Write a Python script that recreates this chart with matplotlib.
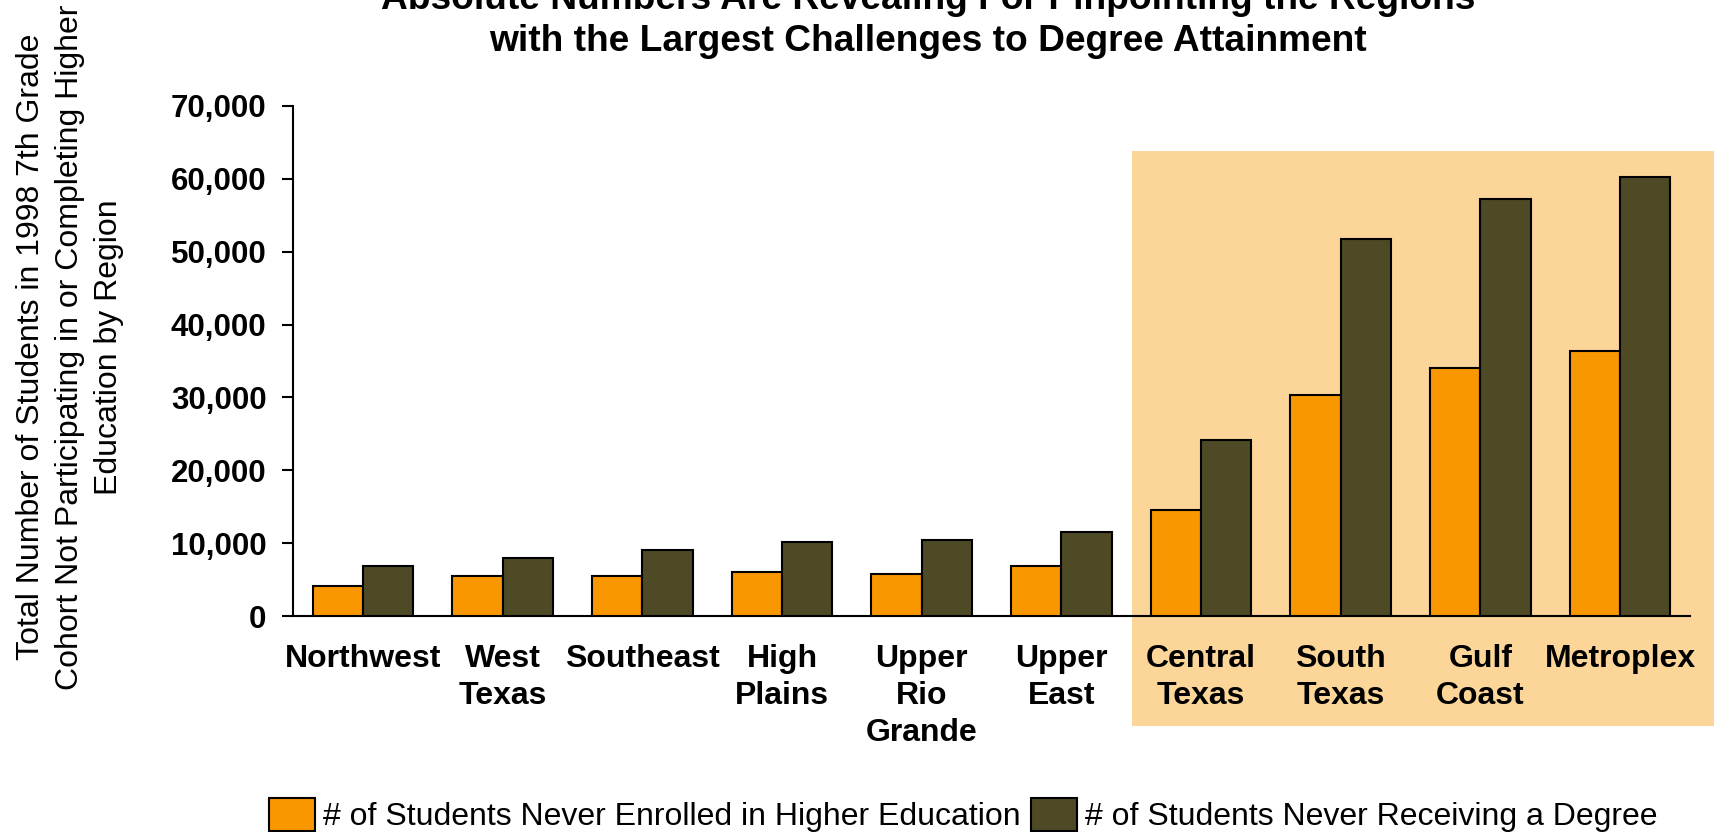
import matplotlib
matplotlib.use("Agg")
import matplotlib.pyplot as plt
from matplotlib.patches import Rectangle
from matplotlib.ticker import FuncFormatter
import numpy as np

regions = ["Northwest", "West\nTexas", "Southeast", "High\nPlains", "Upper\nRio\nGrande",
           "Upper\nEast", "Central\nTexas", "South\nTexas", "Gulf\nCoast", "Metroplex"]
never_enrolled = [4100, 5450, 5450, 6100, 5800, 6900, 14600, 30400, 34000, 36400]
never_degree = [6850, 7900, 9050, 10150, 10450, 11550, 24100, 51800, 57300, 60300]
series_names = ["# of Students Never Enrolled in Higher Education",
                "# of Students Never Receiving a Degree"]
y_ticks = [0, 10000, 20000, 30000, 40000, 50000, 60000, 70000]
title_lines = ["Absolute Numbers Are Revealing For Pinpointing the Regions",
               "with the Largest Challenges to Degree Attainment"]
ylabel = "Total Number of Students in 1998 7th Grade\nCohort Not Participating in or Completing Higher\nEducation by Region"

plt.rcParams['font.family'] = ['Liberation Sans', 'DejaVu Sans']

W, H = 1715, 832
fig = plt.figure(figsize=(W / 100, H / 100), dpi=100)
fig.patch.set_facecolor("white")

# highlight box behind the last four regions
fig.patches.append(Rectangle((1132 / W, 1 - 726 / H), 1 - 1132 / W, (726 - 151) / H,
                             transform=fig.transFigure, facecolor="#FCD599",
                             edgecolor="none", zorder=-5))

ax = fig.add_axes([293 / W, (H - 616) / H, (1690 - 293) / W, (616 - 106) / H])
ax.patch.set_alpha(0)

orange = "#F99700"
dark = "#4E4A26"
x = np.arange(len(regions))
bw = 0.36
ax.bar(x - bw / 2, never_enrolled, width=bw, color=orange, edgecolor="black",
       linewidth=1.5, label=series_names[0], zorder=3)
ax.bar(x + bw / 2, never_degree, width=bw, color=dark, edgecolor="black",
       linewidth=1.5, label=series_names[1], zorder=3)

ax.set_xlim(-0.5, len(regions) - 0.5)
ax.set_ylim(0, 70000)
ax.set_yticks(y_ticks)
ax.yaxis.set_major_formatter(FuncFormatter(lambda v, p: f"{int(v):,}"))
ax.set_xticks(x)
ax.set_xticklabels(regions, fontsize=23, fontweight="bold", linespacing=1.32)
for lab in ax.get_yticklabels():
    lab.set_fontsize(22.5)
    lab.set_fontweight("bold")
ax.tick_params(axis="y", length=8, width=1.5, pad=11, direction="out")
ax.tick_params(axis="x", length=0, pad=20)

for s in ["top", "right"]:
    ax.spines[s].set_visible(False)
ax.spines["left"].set_linewidth(1.5)
ax.spines["bottom"].set_linewidth(1.5)

fig.text(0.541, 1 - 9 / H, title_lines[0], ha="center", va="baseline",
         fontsize=26.7, fontweight="bold")
fig.text(0.541, 1 - 51 / H, title_lines[1], ha="center", va="baseline",
         fontsize=26.7, fontweight="bold")

fig.text(70 / W, 1 - 347 / H, ylabel, rotation=90, ha="center", va="center",
         fontsize=23, linespacing=1.37, multialignment="center")

handles, labels = ax.get_legend_handles_labels()
leg = fig.legend(handles, labels, loc="center", bbox_to_anchor=(0.5617, 1 - 815 / H),
                 ncol=2, frameon=False, fontsize=23, handlelength=1.45, handleheight=1.25,
                 handletextpad=0.25, columnspacing=0.3, borderpad=0, borderaxespad=0)

fig.savefig("out.png", dpi=100)
